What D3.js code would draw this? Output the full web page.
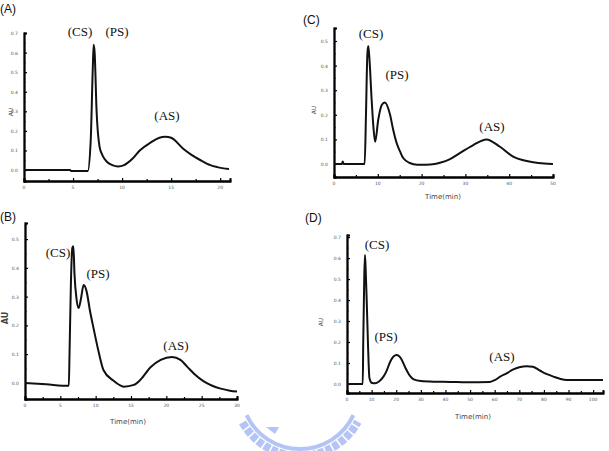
<!DOCTYPE html>
<html lang="en">
<head>
  <meta charset="UTF-8">
  <title>Chromatograms</title>
  <style>
    body { margin: 0; background: #fff; }
  </style>
</head>
<body>
  <script src="https://d3js.org/d3.v7.min.js"></script>
  <script>
    // values (time in min, absorbance in AU)
    let timeA = [0, 4.7, 4.8, 6.5, 6.8, 7.0, 7.1, 7.2, 7.4, 7.7, 8.0, 8.5, 9.0, 9.6, 10.2, 11, 11.8, 12.9, 13.8, 14.4, 15, 16.2, 17, 18, 19, 19.7, 20.9];
    let auA   = [0, 0, -0.005, -0.005, 0.15, 0.5, 0.64, 0.6, 0.3, 0.12, 0.075, 0.04, 0.025, 0.018, 0.025, 0.055, 0.1, 0.14, 0.165, 0.17, 0.165, 0.11, 0.08, 0.05, 0.025, 0.015, 0.005];

    let timeB = [0, 3, 6.2, 6.3, 6.5, 6.7, 6.85, 7.0, 7.3, 7.6, 7.9, 8.3, 8.7, 9.2, 9.7, 10.4, 11.1, 12.5, 14, 15.4, 16.3, 17.8, 19.2, 20.8, 22, 23, 24, 25.3, 26.5, 27.7, 29, 30];
    let auB   = [0, -0.005, -0.01, 0.1, 0.35, 0.47, 0.475, 0.38, 0.29, 0.26, 0.29, 0.34, 0.32, 0.25, 0.19, 0.11, 0.045, 0.008, -0.013, -0.007, 0.01, 0.055, 0.08, 0.09, 0.08, 0.055, 0.03, 0.005, -0.01, -0.02, -0.027, -0.03];

    let timeC = [0, 1.8, 2.0, 2.2, 7.0, 7.3, 7.6, 7.8, 8.0, 8.6, 9.0, 9.4, 10.1, 10.9, 11.6, 12.8, 13.5, 14.3, 15.1, 15.8, 17.3, 19, 21, 23, 24.2, 26.5, 28.8, 31.8, 34.8, 37.9, 40.9, 43, 45.5, 48, 50];
    let auC   = [0, 0, 0.01, 0, 0, 0.2, 0.44, 0.48, 0.45, 0.26, 0.15, 0.09, 0.18, 0.24, 0.25, 0.2, 0.14, 0.085, 0.05, 0.024, 0.004, -0.003, -0.003, 0, 0.005, 0.02, 0.045, 0.077, 0.1, 0.07, 0.03, 0.016, 0.007, 0.002, 0];

    let timeD = [0, 6.4, 6.6, 7.0, 7.3, 7.6, 8.0, 8.5, 9.1, 10, 11.4, 13, 14.8, 16, 17.5, 18.8, 20.2, 22, 23.8, 25.5, 27.1, 30, 35.3, 42, 48.6, 58, 60, 62.2, 65, 67.6, 70, 73, 75.5, 78.5, 81, 83.9, 86.5, 89.3, 95, 104];
    let auD   = [0, 0, 0.2, 0.5, 0.615, 0.54, 0.4, 0.2, 0.03, 0.006, 0.003, 0.012, 0.035, 0.06, 0.105, 0.13, 0.138, 0.12, 0.075, 0.04, 0.022, 0.014, 0.011, 0.01, 0.008, 0.01, 0.018, 0.035, 0.052, 0.07, 0.08, 0.085, 0.082, 0.063, 0.048, 0.035, 0.025, 0.019, 0.019, 0.019];

    // axis ticks
    let xTicksA = [0, 5, 10, 15, 20];
    let xTicksB = [0, 5, 10, 15, 20, 25, 30];
    let xTicksC = [0, 10, 20, 30, 40, 50];
    let xTicksD = [0, 10, 20, 30, 40, 50, 60, 70, 80, 90, 100];
    let yTicksA = [0, 0.1, 0.2, 0.3, 0.4, 0.5, 0.6, 0.7];
    let yTicksB = [0, 0.1, 0.2, 0.3, 0.4, 0.5];
    let yTicksC = [0, 0.1, 0.2, 0.3, 0.4, 0.5];
    let yTicksD = [0, 0.1, 0.2, 0.3, 0.4, 0.5, 0.6, 0.7];

    let peakNames = ["(CS)", "(PS)", "(AS)"];

    let svg = d3.select("body")
      .append("svg")
      .attr("width", 609)
      .attr("height", 451);

    // watermark logo at the bottom (light blue ring with teeth)
    svg.append("path")
      .attr("d", d3.arc()({innerRadius: 57, outerRadius: 61, startAngle: Math.PI * 0.64, endAngle: Math.PI * 1.36}))
      .attr("transform", "translate(300,390)")
      .attr("fill", "#b4c5f5");
    svg.append("path")
      .attr("d", d3.arc()({innerRadius: 66, outerRadius: 66, startAngle: Math.PI * 0.66, endAngle: Math.PI * 1.34}))
      .attr("transform", "translate(300,390)")
      .attr("fill", "none")
      .attr("stroke", "#b4c5f5")
      .attr("stroke-width", 8)
      .attr("stroke-dasharray", "4,4");
    svg.append("polygon")
      .attr("points", "266,427 279,427 275,434")
      .attr("fill", "#b4c5f5");

    let panels = [
      { name: "(A)", nameX: 0, nameY: 13, time: timeA, au: auA, xTicks: xTicksA, yTicks: yTicksA,
        xMax: 21, yMin: -0.056, yMax: 0.7, left: 24, right: 230, top: 33, bottom: 181, minorX: 2.5,
        timeLabel: false, auX: 13, auY: 112, auBold: false,
        labels: [[80, 36], [117, 36], [167, 120]] },
      { name: "(B)", nameX: 0, nameY: 221, time: timeB, au: auB, xTicks: xTicksB, yTicks: yTicksB,
        xMax: 30, yMin: -0.056, yMax: 0.556, left: 25, right: 237, top: 223, bottom: 399, minorX: 2.5,
        timeLabel: true, timeX: 128, timeY: 424, auX: 8, auY: 318, auBold: true,
        labels: [[58, 257], [98, 278], [176, 350]] },
      { name: "(C)", nameX: 303, nameY: 24, time: timeC, au: auC, xTicks: xTicksC, yTicks: yTicksC,
        xMax: 50, yMin: -0.053, yMax: 0.553, left: 334, right: 553, top: 28, bottom: 177, minorX: 5,
        timeLabel: true, timeX: 443, timeY: 199, auX: 316, auY: 110, auBold: false,
        labels: [[371, 38], [397, 79], [492, 131]] },
      { name: "(D)", nameX: 305, nameY: 222, time: timeD, au: auD, xTicks: xTicksD, yTicks: yTicksD,
        xMax: 104, yMin: -0.043, yMax: 0.71, left: 347, right: 603, top: 235, bottom: 393, minorX: 5,
        timeLabel: true, timeX: 473, timeY: 419, auX: 323, auY: 322, auBold: false,
        labels: [[377, 249], [386, 341], [502, 361]] }
    ];

    panels.forEach(drawPanel);

    function drawPanel(p) {
      let x = d3.scaleLinear().domain([0, p.xMax]).range([p.left, p.right]);
      let y = d3.scaleLinear().domain([p.yMin, p.yMax]).range([p.bottom, p.top]);
      let g = svg.append("g");

      // y axis, ticks pointing inward
      let yAxis = d3.axisRight(y)
        .tickValues(p.yTicks)
        .tickSize(3)
        .tickFormat("");
      g.append("g")
        .attr("transform", "translate(" + p.left + ",0)")
        .call(yAxis);
      let yMinor = d3.range(0.05, p.yMax, 0.1);
      g.append("g")
        .attr("transform", "translate(" + p.left + ",0)")
        .call(d3.axisRight(y).tickValues(yMinor).tickSize(1.5).tickFormat(""));
      g.selectAll(".yl")
        .data(p.yTicks)
        .join("text")
        .attr("x", p.left - 6)
        .attr("y", d => y(d) + 2)
        .attr("text-anchor", "end")
        .attr("font-family", "DejaVu Sans, sans-serif")
        .attr("font-size", 4.5)
        .attr("fill", "#555")
        .text(d => d3.format(".1f")(d));

      // x axis
      let xAxis = d3.axisTop(x)
        .tickValues(p.xTicks)
        .tickSize(3)
        .tickFormat("");
      g.append("g")
        .attr("transform", "translate(0," + p.bottom + ")")
        .call(xAxis);
      let xMinor = d3.range(p.minorX, p.xMax, p.minorX * 2);
      g.append("g")
        .attr("transform", "translate(0," + p.bottom + ")")
        .call(d3.axisTop(x).tickValues(xMinor).tickSize(2).tickFormat(""));
      g.selectAll(".xl")
        .data(p.xTicks)
        .join("text")
        .attr("x", d => x(d))
        .attr("y", p.bottom + 8)
        .attr("text-anchor", "middle")
        .attr("font-family", "DejaVu Sans, sans-serif")
        .attr("font-size", 4.5)
        .attr("fill", "#555")
        .text(d => d);

      g.selectAll(".domain")
        .attr("stroke", "#000")
        .attr("stroke-width", 1.8);
      g.selectAll(".tick line")
        .attr("stroke", "#000")
        .attr("stroke-width", 1.2);

      // curve
      let pts = p.time.map((t, i) => [t, p.au[i]]);
      g.append("path")
        .datum(pts)
        .attr("fill", "none")
        .attr("stroke", "#111")
        .attr("stroke-width", 2)
        .attr("stroke-linejoin", "round")
        .attr("d", d3.line()
          .x(d => x(d[0]))
          .y(d => y(d[1]))
          .curve(d3.curveMonotoneX));

      // panel letter
      g.append("text")
        .attr("x", p.nameX)
        .attr("y", p.nameY)
        .attr("font-family", "Liberation Sans, Arial, sans-serif")
        .attr("font-size", 12)
        .attr("fill", "#111")
        .text(p.name);

      // peak labels
      p.labels.forEach((l, i) => {
        g.append("text")
          .attr("x", l[0])
          .attr("y", l[1])
          .attr("text-anchor", "middle")
          .attr("font-family", "Liberation Serif, Times New Roman, serif")
          .attr("font-size", 13)
          .attr("fill", "#111")
          .text(peakNames[i]);
      });

      // AU label
      g.append("text")
        .attr("transform", "translate(" + p.auX + "," + p.auY + ") rotate(-90)")
        .attr("text-anchor", "middle")
        .attr("font-family", "DejaVu Sans, sans-serif")
        .attr("font-size", p.auBold ? 8 : 6)
        .attr("font-weight", p.auBold ? "bold" : "normal")
        .attr("fill", "#444")
        .text("AU");

      if (p.timeLabel) {
        g.append("text")
          .attr("x", p.timeX)
          .attr("y", p.timeY)
          .attr("text-anchor", "middle")
          .attr("font-family", "DejaVu Sans, sans-serif")
          .attr("font-size", 7)
          .attr("fill", "#444")
          .text("Time(min)");
      }
    }
  </script>
</body>
</html>
